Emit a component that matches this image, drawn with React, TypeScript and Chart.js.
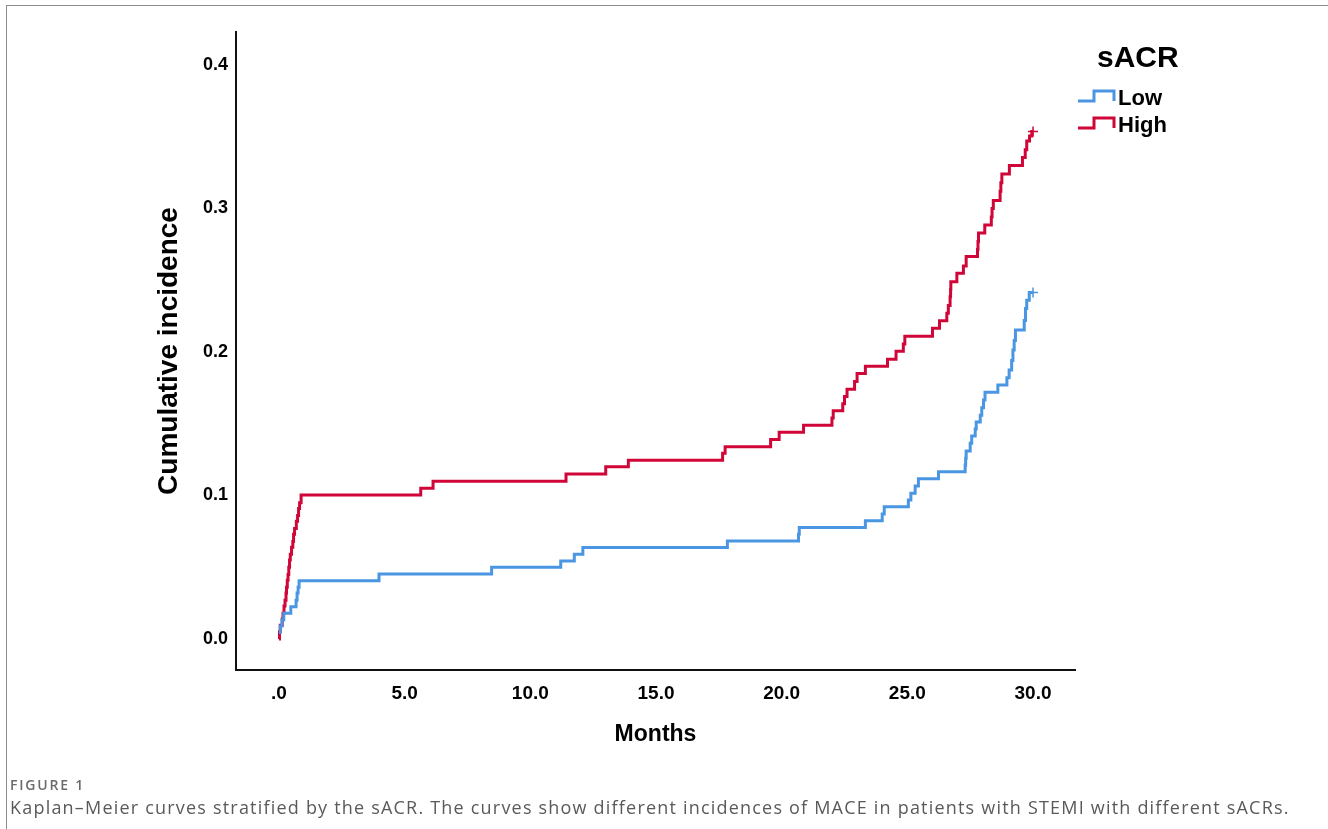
import React, { useEffect, useRef } from 'react';
import { Chart, registerables } from 'chart.js';

Chart.register(...registerables);

// ---- Data ----
const lowTimes = [0, 0.05, 0.12, 0.19, 0.47, 0.68, 0.72, 0.76, 0.8, 3.98, 8.46, 11.21, 11.75, 12.09, 17.84, 20.67, 20.7, 23.33, 24.0, 24.08, 25.04, 25.14, 25.31, 25.44, 26.24, 27.3, 27.32, 27.34, 27.5, 27.56, 27.7, 27.74, 27.9, 27.96, 28.03, 28.09, 28.6, 28.96, 29.05, 29.15, 29.2, 29.25, 29.3, 29.65, 29.7, 29.75, 29.85];
const lowValues = [0.0045, 0.009, 0.0135, 0.018, 0.0225, 0.027, 0.032, 0.036, 0.0406, 0.0453, 0.05, 0.0544, 0.059, 0.0637, 0.0683, 0.073, 0.0777, 0.0824, 0.0871, 0.0922, 0.0969, 0.1015, 0.1066, 0.1117, 0.1166, 0.1213, 0.126, 0.131, 0.1364, 0.1415, 0.1463, 0.1512, 0.156, 0.1612, 0.1665, 0.172, 0.177, 0.182, 0.1875, 0.194, 0.2014, 0.208, 0.2153, 0.222, 0.2303, 0.236, 0.2415];

const highTimes = [0, 0.02, 0.05, 0.13, 0.16, 0.2, 0.24, 0.28, 0.3, 0.33, 0.36, 0.39, 0.42, 0.45, 0.5, 0.55, 0.58, 0.62, 0.69, 0.74, 0.78, 0.82, 0.88, 5.64, 6.13, 11.42, 13.0, 13.9, 17.65, 17.75, 19.56, 19.9, 20.87, 22.0, 22.05, 22.43, 22.5, 22.6, 22.9, 23.0, 23.33, 24.21, 24.55, 24.84, 24.9, 26.0, 26.28, 26.57, 26.63, 26.7, 26.72, 26.73, 26.97, 27.23, 27.34, 27.79, 27.81, 27.83, 28.08, 28.34, 28.37, 28.42, 28.69, 28.72, 28.76, 29.06, 29.58, 29.69, 29.75, 29.86, 29.95];
const highValues = [0, 0.005, 0.0095, 0.014, 0.018, 0.023, 0.027, 0.032, 0.036, 0.041, 0.045, 0.05, 0.055, 0.059, 0.064, 0.068, 0.073, 0.077, 0.082, 0.086, 0.091, 0.095, 0.1003, 0.105, 0.11, 0.115, 0.12, 0.1245, 0.1295, 0.134, 0.139, 0.144, 0.149, 0.154, 0.159, 0.164, 0.169, 0.174, 0.1795, 0.185, 0.19, 0.195, 0.2005, 0.2056, 0.211, 0.2165, 0.2218, 0.227, 0.2324, 0.2385, 0.2435, 0.249, 0.2548, 0.26, 0.2665, 0.2715, 0.277, 0.283, 0.2885, 0.294, 0.3, 0.3056, 0.312, 0.318, 0.324, 0.33, 0.3355, 0.341, 0.347, 0.3505, 0.3537];

const seriesNames = ['Low', 'High'];
const seriesColors = ['#4a96e2', '#cf0637'];
const censorTimes = [30.0, 30.0];
const censorValues = [0.2415, 0.3537];

const xTickValues = [0, 5, 10, 15, 20, 25, 30];
const xTickLabels = ['.0', '5.0', '10.0', '15.0', '20.0', '25.0', '30.0'];
const yTickValues = [0, 0.1, 0.2, 0.3, 0.4];
const yTickLabels = ['0.0', '0.1', '0.2', '0.3', '0.4'];

const legendTitle = 'sACR';
const xTitle = 'Months';
const yTitle = 'Cumulative incidence';
const figureLabel = 'FIGURE 1';
const captionText = 'Kaplan\u2013Meier curves stratified by the sACR. The curves show different incidences of MACE in patients with STEMI with different sACRs.';

const FONT = '"Liberation Sans", Arial, sans-serif';

function toPoints(times: number[], values: number[], endT: number, endV: number) {
  const pts = times.map((t, i) => ({ x: t, y: values[i] }));
  pts.push({ x: endT, y: endV });
  return pts;
}

const legendPlugin = {
  id: 'kmLegend',
  afterDraw(chart: any) {
    const ctx = chart.ctx as CanvasRenderingContext2D;
    const right = chart.chartArea.right;
    ctx.save();
    ctx.fillStyle = '#000';
    ctx.textBaseline = 'middle';
    ctx.textAlign = 'left';
    ctx.font = `bold 30px ${FONT}`;
    ctx.fillText(legendTitle, right + 22, 59);
    ctx.font = `bold 22px ${FONT}`;
    seriesNames.forEach((name, i) => {
      const cy = 98 + i * 27;
      const base = cy + 3;
      const top = cy - 7;
      const x0 = right + 3;
      ctx.beginPath();
      ctx.strokeStyle = seriesColors[i];
      ctx.lineWidth = 3;
      ctx.lineJoin = 'miter';
      ctx.moveTo(x0, base);
      ctx.lineTo(x0 + 16, base);
      ctx.lineTo(x0 + 16, top);
      ctx.lineTo(x0 + 36, top);
      ctx.lineTo(x0 + 36, base);
      ctx.stroke();
      ctx.fillStyle = '#000';
      ctx.fillText(name, right + 43, cy + 1);
    });
    ctx.restore();
  },
};

export default function App() {
  const canvasRef = useRef<HTMLCanvasElement | null>(null);

  useEffect(() => {
    const canvas = canvasRef.current;
    if (!canvas) return;
    const datasets: any[] = [
      {
        label: seriesNames[0],
        data: toPoints(lowTimes, lowValues, censorTimes[0], censorValues[0]),
        borderColor: seriesColors[0],
        borderWidth: 3,
        stepped: 'before',
        pointRadius: 0,
        fill: false,
      },
      {
        label: seriesNames[1],
        data: toPoints(highTimes, highValues, censorTimes[1], censorValues[1]),
        borderColor: seriesColors[1],
        borderWidth: 3,
        stepped: 'before',
        pointRadius: 0,
        fill: false,
      },
      ...seriesNames.map((name, i) => ({
        label: name + ' censored',
        data: [{ x: censorTimes[i], y: censorValues[i] }],
        showLine: false,
        pointStyle: 'cross',
        pointRadius: 5,
        pointBorderWidth: 1.5,
        borderColor: seriesColors[i],
        backgroundColor: seriesColors[i],
      })),
    ];

    const chart = new Chart(canvas, {
      type: 'line',
      data: { datasets },
      plugins: [legendPlugin],
      options: {
        responsive: false,
        animation: false,
        layout: { padding: { left: 152, right: 253, top: 32, bottom: 81 } },
        plugins: {
          legend: { display: false },
          tooltip: { enabled: false },
        },
        scales: {
          x: {
            type: 'linear',
            min: -1.71,
            max: 31.67,
            afterBuildTicks: (s: any) => {
              s.ticks = xTickValues.map((v) => ({ value: v }));
            },
            afterFit: (s: any) => {
              s.height = 78;
            },
            grid: { display: false, drawTicks: false },
            border: { display: true, color: '#111', width: 2 },
            ticks: {
              autoSkip: false,
              maxRotation: 0,
              padding: 12,
              color: '#000',
              font: { family: FONT, size: 19, weight: 'bold' },
              callback: (v: any) => {
                const i = xTickValues.indexOf(Number(v));
                return i >= 0 ? xTickLabels[i] : '';
              },
            },
            title: {
              display: true,
              text: xTitle,
              color: '#000',
              padding: 0,
              font: { family: FONT, size: 23, weight: 'bold' },
            },
          },
          y: {
            type: 'linear',
            min: -0.0216,
            max: 0.423,
            afterBuildTicks: (s: any) => {
              s.ticks = yTickValues.map((v) => ({ value: v }));
            },
            afterFit: (s: any) => {
              s.width = 84;
            },
            grid: { display: false, drawTicks: false },
            border: { display: true, color: '#111', width: 2 },
            ticks: {
              padding: 8,
              color: '#000',
              font: { family: FONT, size: 18, weight: 'bold' },
              callback: (v: any) => {
                const i = yTickValues.findIndex((t) => Math.abs(t - Number(v)) < 1e-9);
                return i >= 0 ? yTickLabels[i] : '';
              },
            },
            title: {
              display: true,
              text: yTitle,
              color: '#000',
              padding: 0,
              font: { family: FONT, size: 28, weight: 'bold' },
            },
          },
        },
      } as any,
    });
    return () => chart.destroy();
  }, []);

  return (
    <div style={{ position: 'fixed', left: 0, top: 0, width: 1328, height: 829, background: '#fff', overflow: 'hidden' }}>
      <div
        style={{
          position: 'absolute',
          left: 6,
          top: 5,
          width: 1330,
          height: 830,
          borderTop: '1px solid #8c8c8c',
          borderLeft: '1px solid #8c8c8c',
        }}
      />
      <canvas ref={canvasRef} width={1328} height={829} style={{ position: 'absolute', left: 0, top: 0 }} />
      <div
        style={{
          position: 'absolute',
          left: 10,
          top: 775,
          fontFamily: '"Open Sans", "Noto Sans", sans-serif',
          fontSize: 14,
          fontWeight: 600,
          color: '#6b6b6b',
          letterSpacing: 1.8,
          whiteSpace: 'nowrap',
        }}
      >
        {figureLabel}
      </div>
      <div
        style={{
          position: 'absolute',
          left: 10,
          top: 795,
          fontFamily: '"Open Sans", "Noto Sans", sans-serif',
          fontSize: 18,
          color: '#5a5a5a',
          letterSpacing: 1.2,
          whiteSpace: 'nowrap',
        }}
      >
        {captionText}
      </div>
    </div>
  );
}
